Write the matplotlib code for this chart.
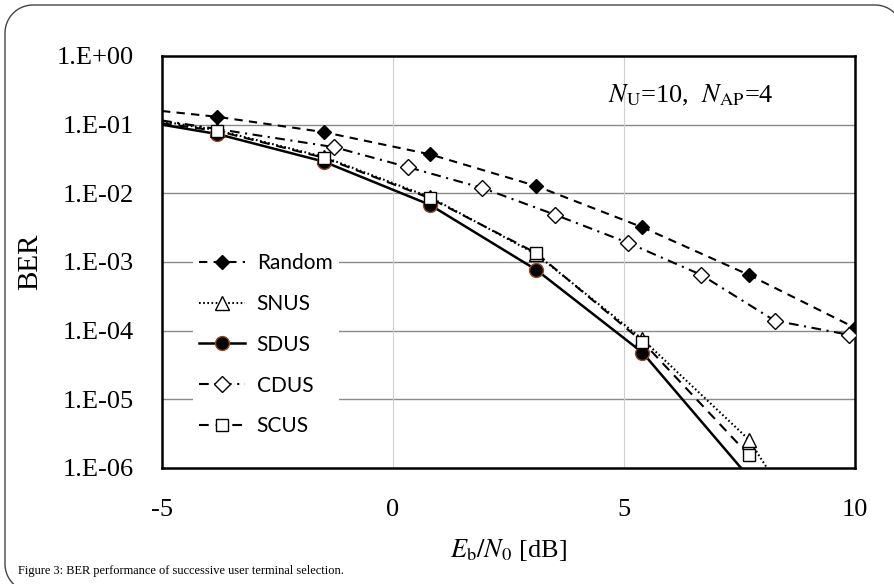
import matplotlib
matplotlib.use("Agg")
import numpy as np
import matplotlib.pyplot as plt
from matplotlib.lines import Line2D
from matplotlib.ticker import NullLocator
from matplotlib.transforms import IdentityTransform

plt.rcParams.update({
    "font.family": ["Liberation Serif", "DejaVu Serif"],
    "mathtext.fontset": "stix",
    "lines.scale_dashes": False,
})

# BER curves (first point of Random / CDUS is only the line start)
x_main = [-5.0, -3.8, -1.5, 0.8, 3.1, 5.4, 7.7, 10.0]
ber_random = [0.158, 0.13, 0.078, 0.037, 0.0128, 3.2e-3, 6.5e-4, 1.1e-4]
ber_snus = [0.112, 0.083, 0.034, 8.8e-3, 1.3e-3, 7.5e-5, 2.6e-6, 1.0e-8]
ber_sdus = [0.10, 0.073, 0.029, 6.8e-3, 7.7e-4, 4.8e-5, 7.4e-7]
ber_scus = [0.105, 0.081, 0.033, 8.5e-3, 1.35e-3, 6.9e-5, 1.55e-6]

x_cdus = [-5.0, -1.27, 0.33, 1.93, 3.5, 5.09, 6.67, 8.26, 9.87]
ber_cdus = [0.115, 0.047, 0.024, 0.012, 4.9e-3, 1.9e-3, 6.5e-4, 1.4e-4, 8.7e-5]

y_ticks = [1e0, 1e-1, 1e-2, 1e-3, 1e-4, 1e-5, 1e-6]
y_labels = ["1.E+00", "1.E-01", "1.E-02", "1.E-03", "1.E-04", "1.E-05", "1.E-06"]
x_ticks = [-5, 0, 5, 10]
x_labels = ["-5", "0", "5", "10"]

fig = plt.figure(figsize=(8.94, 5.84), dpi=100)
ax = fig.add_axes([162 / 894, 1 - 468 / 584, 693 / 894, 412 / 584])

ax.set_yscale("log")
ax.set_xlim(-5, 10)
ax.set_ylim(1e-6, 1)

# grid
for yt in y_ticks[1:-1]:
    ax.axhline(yt, color="#8a8a8a", lw=1.0, zorder=0)
for xt in [0, 5]:
    ax.axvline(xt, color="#cfcfcf", lw=0.8, zorder=0)

lw = 1.5
l_rand, = ax.plot(x_main, ber_random, color="black", lw=lw, linestyle=(0, (6, 4.5)),
                  marker="D", markersize=7, markerfacecolor="black", markeredgecolor="black",
                  markevery=list(range(1, len(x_main))), zorder=3)
l_snus, = ax.plot(x_main, ber_snus, color="black", lw=lw, linestyle=(0, (1.2, 1.8)),
                  marker="^", markersize=10, markerfacecolor="white", markeredgecolor="black",
                  markeredgewidth=1.0, markevery=list(range(1, len(x_main))), zorder=3)
l_sdus, = ax.plot(x_main[:len(ber_sdus)], ber_sdus, color="black", lw=1.8, linestyle="-",
                  marker="o", markersize=10, markerfacecolor="black", markeredgecolor="#9a4a1c",
                  markeredgewidth=1.0, markevery=list(range(1, len(ber_sdus))), zorder=4)
l_cdus, = ax.plot(x_cdus, ber_cdus, color="black", lw=lw, linestyle=(0, (7, 4, 1.5, 4)),
                  marker="D", markersize=8, markerfacecolor="white", markeredgecolor="black",
                  markeredgewidth=1.0, markevery=list(range(1, len(x_cdus))), zorder=3)
l_scus, = ax.plot(x_main[:len(ber_scus)], ber_scus, color="black", lw=lw, linestyle=(0, (7, 5)),
                  marker="s", markersize=8, markerfacecolor="white", markeredgecolor="black",
                  markeredgewidth=1.0, markevery=list(range(1, len(ber_scus))), zorder=5)

ax.set_yticks(y_ticks, labels=y_labels)
ax.yaxis.set_minor_locator(NullLocator())
ax.set_xticks(x_ticks, labels=x_labels)
ax.tick_params(axis="both", length=0, labelsize=19)
ax.tick_params(axis="y", pad=20)
ax.tick_params(axis="x", pad=22)

for sp in ax.spines.values():
    sp.set_linewidth(1.8)

ax.set_ylabel("BER", fontsize=21, labelpad=10)
ax.set_xlabel(r"$E_{\mathrm{b}}/N_0$ [dB]", fontsize=19, labelpad=12)

ax.text(4.65, 0.27, r"$N_{\mathrm{U}}$=10,  $N_{\mathrm{AP}}$=4", fontsize=19,
        va="center", ha="left")

leg = ax.legend([l_rand, l_snus, l_sdus, l_cdus, l_scus],
                ["Random", "SNUS", "SDUS", "CDUS", "SCUS"],
                loc="upper left", bbox_to_anchor=(0.045, 0.537), borderaxespad=0,
                frameon=True, framealpha=1, edgecolor="none", fancybox=False,
                prop={"family": "Lato", "size": 15}, handlelength=2.2,
                handletextpad=0.55, labelspacing=1.0, numpoints=1, borderpad=0.3)

fig.text(18 / 894, 1 - 571 / 584,
         "Figure 3: BER performance of successive user terminal selection.",
         fontsize=8.9, va="center", ha="left")

# rounded page frame (pixel coords): left edge, top edge, corners; runs off right/bottom
r = 28
left, top, right, bottom = 5, 579, 903, -8
def arc(cx, cy, a0, a1):
    t = np.radians(np.linspace(a0, a1, 30))
    return cx + r * np.cos(t), cy + r * np.sin(t)

parts = [arc(left + r, bottom + r, 270, 180),
         arc(left + r, top - r, 180, 90),
         arc(right - r, top - r, 90, 0)]
bx = np.concatenate([p[0] for p in parts])
by = np.concatenate([p[1] for p in parts])
fig.add_artist(Line2D(bx, by, transform=IdentityTransform(), color="#444444", lw=1.0))

fig.savefig("out.png", dpi=100)
